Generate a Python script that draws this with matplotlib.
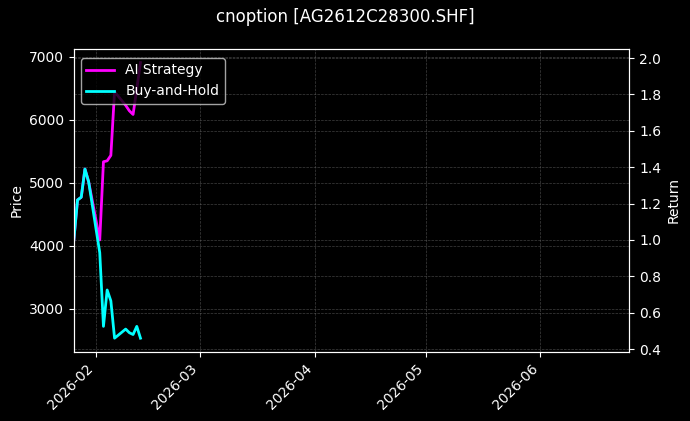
import matplotlib
matplotlib.use("Agg")
import matplotlib.pyplot as plt
import matplotlib.dates as mdates
import pandas as pd

dates = pd.to_datetime([
    "2026-01-26", "2026-01-27", "2026-01-28", "2026-01-29", "2026-01-30",
    "2026-02-02", "2026-02-03", "2026-02-04", "2026-02-05", "2026-02-06",
    "2026-02-09", "2026-02-10", "2026-02-11", "2026-02-12", "2026-02-13",
])
buy_hold = [1.00, 1.22, 1.235, 1.39, 1.32, 0.93, 0.525, 0.725, 0.665, 0.46,
            0.51, 0.49, 0.48, 0.525, 0.46]
ai_strategy = [1.00, 1.22, 1.235, 1.39, 1.32, 1.00, 1.43, 1.435, 1.465, 1.815,
               1.74, 1.71, 1.69, 1.83, 1.975]

title = "cnoption [AG2612C28300.SHF]"
x_range = pd.to_datetime(["2026-01-26", "2026-06-25"])
price_range = (2317, 7127)

plt.style.use("dark_background")
fig = plt.figure(figsize=(6.9, 4.21), dpi=100)
ax = fig.add_axes([0.107, 0.164, 0.805, 0.72])
ax2 = ax.twinx()

ax2.plot(dates, ai_strategy, color="#ff00ff", lw=2, label="AI Strategy")
ax2.plot(dates, buy_hold, color="#00ffff", lw=2, label="Buy-and-Hold")

ax.set_ylim(*price_range)
ax.set_xlim(x_range[0], x_range[1])
ax.set_ylabel("Price")
ax2.set_ylabel("Return")

ax.xaxis.set_major_locator(mdates.MonthLocator())
ax.xaxis.set_major_formatter(mdates.DateFormatter("%Y-%m"))
plt.setp(ax.get_xticklabels(), rotation=45, ha="right")

ax.grid(True, linestyle="--", linewidth=0.5, color="gray", alpha=0.5)
ax2.grid(True, linestyle="--", linewidth=0.5, color="gray", alpha=0.5)

ax2.legend(loc="upper left", bbox_to_anchor=(0, 0.993))
fig.suptitle(title, fontsize=12, y=0.98)

fig.savefig("out.png", dpi=100)
